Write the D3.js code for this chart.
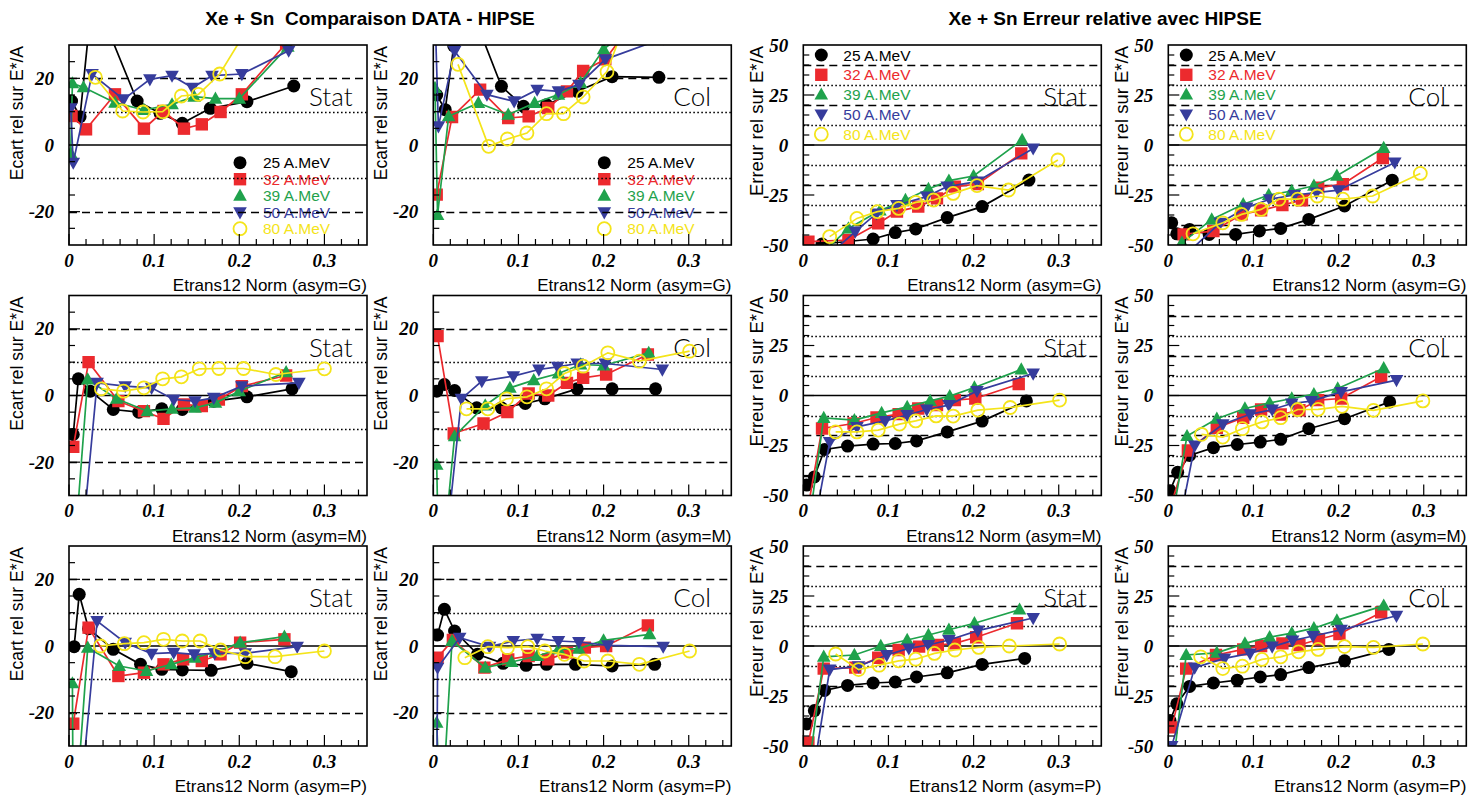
<!DOCTYPE html>
<html><head><meta charset="utf-8">
<script src="https://cdn.jsdelivr.net/npm/d3@7"></script>
<style>body{margin:0;background:#fff;}</style>
</head><body>
<svg id="chart" width="1484" height="800"></svg>
<script>
// ---------- labels / categories ----------
const energies = ["25 A.MeV", "32 A.MeV", "39 A.MeV", "50 A.MeV", "80 A.MeV"];
const seriesColors = ["#000000", "#ec2a2e", "#1fa24c", "#363c9c", "#f4e41a"];
const seriesShapes = ["circle", "square", "triUp", "triDown", "openCircle"];
const leftTitle = "Xe + Sn  Comparaison DATA - HIPSE";
const rightTitle = "Xe + Sn Erreur relative avec HIPSE";
const ecartYTitle = "Ecart rel sur E*/A";
const erreurYTitle = "Erreur rel sur E*/A";
const xTitles = ["Etrans12 Norm (asym=G)", "Etrans12 Norm (asym=M)", "Etrans12 Norm (asym=P)"];
const panelTags = ["Stat", "Col", "Stat", "Col"];
const xTickLabels = [0, 0.1, 0.2, 0.3];
const ecartTickLabels = [-20, 0, 20];
const erreurTickLabels = [-50, -25, 0, 25, 50];
const ecartDashed = [-20, 20], ecartDotted = [-10, 10];
const erreurDashed = [-40, -20, 20, 40], erreurDotted = [-30, -10, 10, 30];

// ---------- data: each panel = 5 series (25,32,39,50,80 A.MeV), points [x, y] ----------
const ecartStatG = [
  [[0.003,13.2],[0.013,8.5],[0.025,39],[0.05,32],[0.08,13.2],[0.107,9.5],[0.133,6.5],[0.166,11],[0.209,13],[0.264,17.7]],
  [[0.003,8.7],[0.02,4.7],[0.054,15.2],[0.088,4.9],[0.111,10.2],[0.135,4.9],[0.156,6.2],[0.178,9.9],[0.203,15.2],[0.255,30.5]],
  [[0.002,-2.5],[0.004,18.5],[0.017,17.3],[0.054,12.7],[0.088,10.5],[0.121,12.2],[0.147,14.5],[0.172,13.9],[0.2,13.9],[0.257,29.5]],
  [[0.002,11],[0.005,-5.3],[0.027,21.3],[0.064,13.7],[0.095,19.7],[0.121,20.8],[0.145,17.2],[0.168,20.8],[0.203,21.3],[0.258,28.3]],
  [[0.031,20.3],[0.063,10.2],[0.087,9.9],[0.11,10],[0.132,14.7],[0.152,15.2],[0.177,21.3],[0.205,33]]
];
const ecartColG = [
  [[0.004,15],[0.014,10.6],[0.024,29.7],[0.055,34],[0.08,17.6],[0.106,11.6],[0.133,12.1],[0.169,16.1],[0.21,20.5],[0.265,20.3]],
  [[0.004,-14.9],[0.022,8.4],[0.055,16.6],[0.088,8.1],[0.112,8.6],[0.135,11.1],[0.157,16.1],[0.176,22.2],[0.202,25.7],[0.25,42]],
  [[0.002,17.1],[0.005,-21],[0.018,8.6],[0.053,12.6],[0.088,9.1],[0.119,12.6],[0.147,15.1],[0.173,18.6],[0.2,28.7],[0.255,40]],
  [[0.002,40],[0.006,5.6],[0.025,28.2],[0.063,15.1],[0.095,13.1],[0.122,16.6],[0.147,16.1],[0.171,18.1],[0.202,25.7],[0.27,32]],
  [[0.029,24.2],[0.065,-0.4],[0.087,1.8],[0.11,3.6],[0.133,9.4],[0.153,9.4],[0.176,14.4],[0.204,22],[0.23,40]]
];
const erreurStatG = [
  [[0.022,-49.5],[0.082,-47],[0.108,-43.8],[0.132,-42],[0.169,-36.3],[0.21,-30.8],[0.265,-17.5]],
  [[0.006,-48.3],[0.053,-47.5],[0.088,-39.2],[0.11,-33.3],[0.135,-30.8],[0.157,-26.7],[0.178,-20.8],[0.205,-19.5],[0.256,-4.2]],
  [[0.025,-53],[0.053,-41.7],[0.09,-32.8],[0.12,-27.5],[0.147,-22],[0.171,-17.8],[0.2,-15.5],[0.257,2.5]],
  [[0.03,-55],[0.061,-43.3],[0.086,-34.2],[0.11,-30],[0.145,-25.8],[0.169,-20.8],[0.204,-18.3],[0.27,-1.7]],
  [[0.031,-45.8],[0.063,-36.7],[0.087,-33.3],[0.112,-31.7],[0.132,-28.7],[0.153,-27.5],[0.176,-24.2],[0.204,-20.3],[0.241,-22.5],[0.299,-7.5]]
];
const erreurColG = [
  [[0.004,-38.9],[0.01,-44.4],[0.025,-42.2],[0.048,-44.7],[0.079,-44.7],[0.107,-43],[0.132,-41.7],[0.165,-37.2],[0.207,-30.5],[0.263,-17.6]],
  [[0.005,-55],[0.018,-44.7],[0.053,-43],[0.086,-34.7],[0.109,-32.7],[0.134,-30],[0.157,-27.6],[0.176,-21.3],[0.205,-19.6],[0.252,-6.5]],
  [[0.016,-48.9],[0.051,-37.2],[0.088,-29.6],[0.118,-25],[0.145,-23],[0.171,-20.4],[0.198,-15.4],[0.253,-1.5]],
  [[0.02,-55],[0.061,-38.9],[0.092,-31.3],[0.119,-27.1],[0.148,-25],[0.174,-23.8],[0.2,-22.6],[0.266,-8.7]],
  [[0.029,-44.4],[0.064,-38.9],[0.086,-34.7],[0.109,-32.2],[0.13,-27.1],[0.152,-27.1],[0.175,-25.5],[0.205,-27.1],[0.24,-25.5],[0.296,-14.2]]
];
const ecartStatM = [
  [[0.005,-11.7],[0.011,5],[0.025,1.3],[0.052,-4.2],[0.082,-5],[0.109,-4],[0.133,-4.2],[0.17,-1.7],[0.209,-0.4],[0.262,2]],
  [[0.005,-15.4],[0.023,10],[0.058,-1.7],[0.088,-4.7],[0.111,-7],[0.135,-2.7],[0.156,-3.2],[0.176,-1.2],[0.203,2.8],[0.255,6]],
  [[0.007,-45],[0.022,4.8],[0.056,-1],[0.092,-4.7],[0.121,-4],[0.148,-3.7],[0.172,-2.2],[0.2,1.3],[0.255,7]],
  [[0.015,-45],[0.033,3.8],[0.066,2.8],[0.097,2.3],[0.123,-1.2],[0.148,-1.7],[0.17,-0.7],[0.203,2.8],[0.27,3.8]],
  [[0.038,2],[0.064,1.3],[0.088,2.3],[0.11,5],[0.132,5.6],[0.153,8],[0.176,8.1],[0.205,8.1],[0.243,6.3],[0.3,8]]
];
const ecartColM = [
  [[0.004,1.3],[0.013,3.3],[0.025,1.5],[0.051,-3.7],[0.08,-3.7],[0.108,-2.4],[0.131,-1],[0.169,2],[0.21,2],[0.261,2]],
  [[0.005,17.8],[0.024,-11.4],[0.059,-8.4],[0.087,-5],[0.112,0.6],[0.135,0],[0.157,3.8],[0.176,5.3],[0.203,6.3],[0.252,12.3]],
  [[0.004,-20.8],[0.007,-60],[0.025,-12.2],[0.061,-3],[0.09,2.3],[0.118,4.6],[0.147,6.6],[0.173,9.3],[0.2,9],[0.253,12.8]],
  [[0.015,-45],[0.033,-1],[0.057,4.3],[0.094,5.8],[0.124,7.8],[0.146,8.6],[0.169,9.6],[0.202,9.6],[0.269,7.8]],
  [[0.039,-4],[0.064,-4],[0.086,-1],[0.11,-0.4],[0.133,2],[0.154,6.6],[0.176,8.8],[0.205,12.8],[0.242,10.3],[0.301,13.3]]
];
const erreurStatM = [
  [[0.004,-44.8],[0.013,-40.7],[0.025,-27],[0.052,-25.3],[0.082,-24.3],[0.108,-24],[0.133,-22.7],[0.169,-18.2],[0.21,-12.8],[0.262,-2.7]],
  [[0.006,-55],[0.022,-16.5],[0.059,-14],[0.086,-11],[0.112,-9.3],[0.135,-6.5],[0.157,-4.8],[0.178,-2.3],[0.202,-1.5],[0.253,5.7]],
  [[0.008,-60],[0.024,-11.2],[0.06,-12.3],[0.092,-8.7],[0.122,-5.7],[0.149,-2.7],[0.172,-0.3],[0.201,4],[0.256,13]],
  [[0.015,-60],[0.031,-23.2],[0.063,-15.7],[0.096,-12.7],[0.122,-9.8],[0.145,-7],[0.171,-4.8],[0.204,2.3],[0.27,11]],
  [[0.038,-18.2],[0.063,-18.2],[0.088,-17.3],[0.113,-14.3],[0.132,-12.7],[0.156,-10.2],[0.176,-10.3],[0.205,-7.3],[0.243,-6],[0.301,-2.3]]
];
const erreurColM = [
  [[0.002,-47.6],[0.011,-38.4],[0.025,-30],[0.053,-26.1],[0.081,-24.5],[0.108,-23.3],[0.132,-21.9],[0.165,-16.6],[0.207,-11.6],[0.26,-3.2]],
  [[0.003,-55],[0.023,-27.5],[0.057,-16.1],[0.088,-11.1],[0.109,-7],[0.132,-9.5],[0.154,-7.4],[0.176,-2.3],[0.203,-1.5],[0.25,9.4]],
  [[0.005,-60],[0.022,-20.3],[0.057,-11.6],[0.09,-6.5],[0.119,-3.7],[0.145,-1.5],[0.171,0.7],[0.199,3.5],[0.253,13.6]],
  [[0.015,-60],[0.031,-25],[0.064,-14.4],[0.096,-9.4],[0.122,-7],[0.145,-4],[0.168,-2.8],[0.203,1.8],[0.268,7.7]],
  [[0.039,-19.4],[0.064,-20.8],[0.087,-16.6],[0.11,-13.2],[0.132,-11.1],[0.152,-7],[0.176,-6.9],[0.204,-5.4],[0.241,-7.4],[0.299,-2.7]]
];
const ecartStatP = [
  [[0.006,-0.2],[0.012,15.5],[0.023,5.2],[0.052,-1],[0.084,-5.5],[0.109,-7],[0.133,-7.2],[0.167,-7.3],[0.209,-5.2],[0.261,-7.7]],
  [[0.005,-23.3],[0.023,5.5],[0.058,-9],[0.088,-8],[0.111,-5.5],[0.134,-4],[0.156,-4.5],[0.178,-2.5],[0.201,1],[0.253,2]],
  [[0.004,-11.2],[0.005,-60],[0.022,-0.5],[0.059,-6],[0.091,-7.5],[0.12,-5.5],[0.148,-3.5],[0.172,-1.8],[0.201,1],[0.253,2.8]],
  [[0.012,-50],[0.033,7.5],[0.066,1],[0.097,-2.3],[0.123,-2],[0.147,-2.5],[0.171,-2.2],[0.207,-2.2],[0.268,-0.2]],
  [[0.037,0],[0.065,0.7],[0.088,1],[0.111,2],[0.133,1.5],[0.154,1.5],[0.178,-1.2],[0.207,-3.2],[0.242,-3.2],[0.3,-1.5]]
];
const ecartColP = [
  [[0.005,3.3],[0.013,11],[0.025,4.5],[0.052,-2.5],[0.082,-5.2],[0.109,-5.8],[0.133,-5.5],[0.167,-5.5],[0.21,-6],[0.26,-5.5]],
  [[0.005,-3.5],[0.023,1.8],[0.06,-6.5],[0.088,-4],[0.112,-3],[0.135,-4],[0.157,-2],[0.178,-0.5],[0.203,0],[0.252,6.2]],
  [[0.004,-23],[0.009,-55],[0.022,1.5],[0.061,-6.5],[0.092,-4.8],[0.122,-3],[0.147,-1],[0.171,-0.8],[0.2,1.7],[0.254,3.5]],
  [[0.004,-50],[0.005,-6.5],[0.031,2.5],[0.066,-0.2],[0.094,1.5],[0.122,2.2],[0.147,1.5],[0.171,1.2],[0.205,0.2],[0.27,-0.2]],
  [[0.037,-3.5],[0.064,-0.2],[0.087,-0.5],[0.111,-0.2],[0.131,-1.5],[0.154,-2.5],[0.177,-4.5],[0.205,-4.5],[0.242,-5.5],[0.301,-1.5]]
];
const erreurStatP = [
  [[0.004,-39],[0.013,-32.3],[0.025,-22.2],[0.052,-19.7],[0.082,-18.5],[0.108,-18],[0.133,-15.5],[0.169,-13.4],[0.21,-9.2],[0.26,-6.2]],
  [[0.006,-48.2],[0.024,-11.3],[0.061,-10.8],[0.088,-5.9],[0.112,-2],[0.136,-0.3],[0.158,0.5],[0.178,1.3],[0.203,4.4],[0.251,11.4]],
  [[0.007,-60],[0.024,-5.4],[0.06,-4.5],[0.091,0],[0.122,3],[0.147,5.5],[0.171,8.1],[0.201,11.4],[0.254,18.2]],
  [[0.013,-60],[0.031,-11.8],[0.065,-10.1],[0.098,-4.5],[0.124,-1.2],[0.147,0.5],[0.171,3],[0.205,7.7],[0.27,14]],
  [[0.038,-4],[0.065,-11.8],[0.089,-9.6],[0.112,-7.4],[0.132,-6.6],[0.154,-3.7],[0.178,-2],[0.206,-0.7],[0.242,0],[0.301,1]]
];
const erreurColP = [
  [[0.002,-37.3],[0.01,-28.9],[0.025,-20.2],[0.053,-18.5],[0.081,-17.1],[0.108,-15.5],[0.132,-14.3],[0.165,-10.8],[0.207,-7.4],[0.259,-1.7]],
  [[0.004,-40.7],[0.021,-11.3],[0.056,-4.5],[0.088,-1.7],[0.109,0],[0.134,1.3],[0.154,0.5],[0.177,3.4],[0.201,6],[0.25,16.8]],
  [[0.007,-55],[0.021,-4.5],[0.057,-3.4],[0.09,1.3],[0.119,4.4],[0.145,6.4],[0.171,8.9],[0.198,12.8],[0.253,20.2]],
  [[0.004,-50],[0.031,-10.8],[0.066,-6.2],[0.096,-3.7],[0.122,-0.3],[0.146,2.7],[0.17,5],[0.203,8.1],[0.268,15.1]],
  [[0.038,-5.4],[0.064,-11.3],[0.087,-10.1],[0.11,-6.7],[0.132,-5.4],[0.153,-2.9],[0.176,-1.7],[0.207,-0.3],[0.241,-0.7],[0.299,1]]
];

const panelData = [
  [ecartStatG, ecartColG, erreurStatG, erreurColG],
  [ecartStatM, ecartColM, erreurStatM, erreurColM],
  [ecartStatP, ecartColP, erreurStatP, erreurColP]
];

// ---------- layout ----------
const colX = [69, 433.3, 803.3, 1168.3];
const rowY = [45, 295.5, 546];
const PW = 298, PH = 200;

const svg = d3.select("#chart");
svg.append("rect").attr("width", 1484).attr("height", 800).attr("fill", "#fff");

svg.append("text").attr("x", 370).attr("y", 25).attr("text-anchor", "middle")
  .attr("xml:space", "preserve").style("white-space", "pre")
  .attr("font-family", "Liberation Sans, Arial, sans-serif").attr("font-weight", "bold")
  .attr("font-size", 19).text(leftTitle);
svg.append("text").attr("x", 1105).attr("y", 25).attr("text-anchor", "middle")
  .attr("font-family", "Liberation Sans, Arial, sans-serif").attr("font-weight", "bold")
  .attr("font-size", 19).text(rightTitle);

function markerPath(shape) {
  switch (shape) {
    case "circle": case "openCircle":
      return d3.symbol(d3.symbolCircle, Math.PI * 6.5 * 6.5)();
    case "square": return "M-6.2,-6.2H6.2V6.2H-6.2Z";
    case "triUp": return "M-6.8,5L6.8,5L0,-7.2Z";
    case "triDown": return "M-6.8,-5L6.8,-5L0,7.2Z";
  }
}
function styleMarker(sel, i) {
  const open = seriesShapes[i] === "openCircle";
  sel.attr("d", markerPath(seriesShapes[i]))
    .attr("fill", open ? "none" : seriesColors[i])
    .attr("stroke", open ? seriesColors[i] : "none")
    .attr("stroke-width", open ? 1.8 : 0);
}

let clipId = 0;
rowY.forEach((y0, r) => {
  colX.forEach((x0, c) => {
    const isEcart = c < 2;
    const yDom = isEcart ? [-30, 30] : [-50, 50];
    const x = d3.scaleLinear().domain([0, 0.35]).range([x0, x0 + PW]);
    const y = d3.scaleLinear().domain(yDom).range([y0 + PH, y0]);
    const g = svg.append("g");
    const cid = "clip" + (clipId++);
    g.append("clipPath").attr("id", cid).append("rect")
      .attr("x", x0).attr("y", y0).attr("width", PW).attr("height", PH);

    // legend (first row only)
    if (r === 0) {
      const lg = g.append("g");
      energies.forEach((name, i) => {
        const lx = isEcart ? x0 + 171 : x0 + 18;
        const ly = isEcart ? y0 + 117.7 + i * 16.5 : y0 + 10 + i * 19.8;
        lg.append("path").attr("transform", `translate(${lx},${ly})`).call(styleMarker, i);
        lg.append("text").attr("x", isEcart ? x0 + 194 : x0 + 40).attr("y", ly + 5.5)
          .attr("font-family", "Liberation Sans, Arial, sans-serif").attr("font-size", 15.5)
          .attr("fill", seriesColors[i]).text(name);
      });
    }

    // reference lines
    const dashed = isEcart ? ecartDashed : erreurDashed;
    const dotted = isEcart ? ecartDotted : erreurDotted;
    const snap = v => Math.round(y(v)) + 0.5;
    dashed.forEach(v => g.append("line").attr("x1", x0).attr("x2", x0 + PW)
      .attr("y1", snap(v)).attr("y2", snap(v)).attr("stroke", "#000").attr("stroke-width", 1.4)
      .attr("stroke-dasharray", "8,5"));
    dotted.forEach(v => g.append("line").attr("x1", x0).attr("x2", x0 + PW)
      .attr("y1", snap(v)).attr("y2", snap(v)).attr("stroke", "#000").attr("stroke-width", 1.4)
      .attr("stroke-dasharray", "1.6,2.4"));
    g.append("line").attr("x1", x0).attr("x2", x0 + PW).attr("y1", y(0)).attr("y2", y(0))
      .attr("stroke", "#000").attr("stroke-width", 1.6);

    // tag
    g.append("text").attr("x", x0 + 240).attr("y", y0 + 61)
      .attr("font-family", "Lato, 'DejaVu Sans', sans-serif").attr("font-weight", 300)
      .attr("font-size", 26).attr("fill", "#000").text(panelTags[c]);

    // data
    const dg = g.append("g").attr("clip-path", `url(#${cid})`);
    const line = d3.line().x(d => x(d[0])).y(d => y(d[1]));
    panelData[r][c].forEach((pts, i) => {
      dg.append("path").attr("d", line(pts)).attr("fill", "none")
        .attr("stroke", seriesColors[i]).attr("stroke-width", 1.7);
      dg.selectAll(null).data(pts).enter().append("path")
        .attr("transform", d => `translate(${x(d[0])},${y(d[1])})`)
        .call(styleMarker, i);
    });

    // frame
    g.append("rect").attr("x", x0).attr("y", y0).attr("width", PW).attr("height", PH)
      .attr("fill", "none").attr("stroke", "#000").attr("stroke-width", 1.6);

    // x ticks
    d3.range(0, 0.345, 0.02).forEach(v => {
      const major = Math.abs(v * 10 - Math.round(v * 10)) < 1e-6;
      g.append("line").attr("x1", x(v)).attr("x2", x(v))
        .attr("y1", y0 + PH).attr("y2", y0 + PH - (major ? 11 : 6))
        .attr("stroke", "#000").attr("stroke-width", 1.2);
    });
    xTickLabels.forEach(v => g.append("text").attr("x", x(v)).attr("y", y0 + PH + 21.5)
      .attr("text-anchor", "middle").attr("font-family", "Liberation Serif, Times New Roman, serif")
      .attr("font-weight", "bold").attr("font-style", "italic").attr("font-size", 19).text(v));

    // y ticks
    const labels = isEcart ? ecartTickLabels : erreurTickLabels;
    d3.range(yDom[0] + 5, yDom[1], 5).forEach(v => {
      const major = labels.includes(v);
      g.append("line").attr("x1", x0).attr("x2", x0 + (major ? 11 : 6))
        .attr("y1", y(v)).attr("y2", y(v)).attr("stroke", "#000").attr("stroke-width", 1.2);
    });
    labels.forEach(v => g.append("text").attr("x", x0 - 15).attr("y", y(v) + 6.5)
      .attr("text-anchor", "end").attr("font-family", "Liberation Serif, Times New Roman, serif")
      .attr("font-weight", "bold").attr("font-style", "italic").attr("font-size", 19).text(v));

    // axis titles
    g.append("text").attr("x", x0 + PW).attr("y", y0 + PH + 46).attr("text-anchor", "end")
      .attr("font-family", "Liberation Sans, Arial, sans-serif").attr("font-size", 17)
      .text(xTitles[r]);
    const tx = isEcart ? x0 - 46 : x0 - 40;
    g.append("text").attr("transform", `translate(${tx},${y0 + 1}) rotate(-90)`)
      .attr("text-anchor", "end").attr("font-family", "Liberation Sans, Arial, sans-serif")
      .attr("font-size", isEcart ? 17.5 : 18.5).text(isEcart ? ecartYTitle : erreurYTitle);
  });
});
</script>
</body></html>
